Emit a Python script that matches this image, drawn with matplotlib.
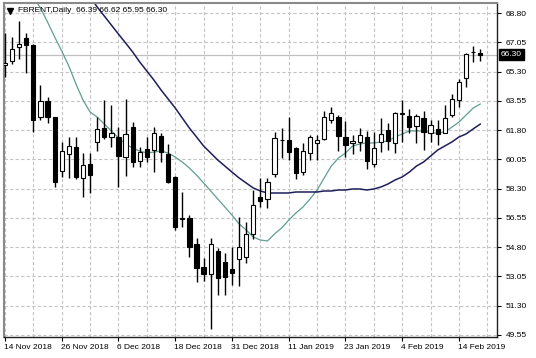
import matplotlib
matplotlib.use("Agg")
import matplotlib.pyplot as plt
from matplotlib.lines import Line2D
import matplotlib.transforms as mtransforms

plt.rcParams['font.family'] = ['Liberation Sans', 'DejaVu Sans']

# ---------------- data ----------------
opens = [65.69, 65.95, 66.75, 67.29, 66.89, 62.60, 63.56, 62.56, 59.37, 60.37,
         60.81, 58.92, 59.77, 61.11, 61.94, 61.37, 61.40, 60.17, 61.97, 59.97,
         60.65, 60.61, 61.46, 60.35, 59.01, 56.50, 56.52, 54.97, 53.59, 53.19,
         54.59, 53.93, 53.47, 54.09, 54.23, 55.59, 57.82, 57.66, 59.17, 61.18,
         61.21, 60.71, 59.31, 60.41, 61.01, 61.27, 62.40, 62.60, 61.37, 61.01,
         61.11, 61.41, 59.77, 61.11, 61.81, 61.01, 62.78, 62.64, 62.04, 62.50,
         61.65, 61.85, 61.65, 62.70, 63.60, 64.89, 66.45, 66.39]
highs = [67.59, 67.38, 68.34, 67.62, 66.95, 64.50, 63.80, 62.60, 61.11, 61.40,
         61.40, 60.41, 60.45, 62.56, 63.60, 63.30, 61.97, 63.66, 62.27, 60.81,
         61.40, 62.00, 61.61, 60.97, 59.05, 58.12, 56.72, 55.33, 54.13, 55.33,
         54.73, 54.43, 54.79, 56.58, 56.28, 58.22, 58.95, 58.91, 61.70, 61.90,
         62.56, 60.77, 61.01, 61.51, 61.51, 62.96, 63.16, 62.70, 62.36, 61.51,
         61.90, 61.75, 61.71, 62.54, 62.20, 62.90, 63.60, 63.04, 62.76, 62.96,
         62.40, 62.40, 63.30, 63.96, 64.85, 66.39, 66.83, 66.62]
lows = [64.99, 65.75, 66.03, 65.23, 61.70, 62.40, 62.24, 58.42, 59.01, 58.92,
        58.86, 57.78, 58.06, 60.57, 61.25, 60.81, 58.42, 59.07, 59.61, 59.61,
        59.91, 59.31, 59.91, 58.65, 55.83, 56.02, 54.23, 52.74, 52.80, 49.89,
        51.94, 51.94, 52.54, 52.48, 53.87, 55.27, 57.22, 57.12, 59.01, 60.11,
        60.01, 58.85, 59.11, 60.01, 60.01, 61.21, 62.24, 60.57, 60.21, 60.37,
        60.57, 59.45, 59.61, 60.51, 60.61, 60.45, 61.11, 61.61, 61.05, 60.61,
        61.11, 60.91, 61.61, 62.60, 63.16, 64.40, 65.89, 65.95]
closes = [65.83, 66.63, 66.95, 66.89, 62.40, 63.54, 62.60, 58.71, 60.55, 60.85,
          59.01, 59.71, 59.13, 61.85, 61.37, 61.61, 60.27, 61.55, 59.91, 60.47,
          60.21, 61.64, 60.47, 58.71, 56.02, 56.55, 54.79, 53.53, 53.19, 54.97,
          52.94, 53.03, 53.27, 54.83, 55.59, 57.32, 57.58, 58.72, 61.31, 61.22,
          60.51, 59.21, 60.57, 61.37, 61.21, 62.60, 62.80, 61.47, 60.91, 61.15,
          61.51, 59.97, 60.71, 61.55, 61.17, 62.80, 62.84, 61.96, 62.64, 61.67,
          62.10, 61.55, 62.54, 63.66, 64.65, 66.33, 66.50, 66.30]

ma_fast = [71.50, 71.10, 70.70, 70.30, 69.76, 69.10, 68.26, 67.37, 66.53, 65.63,
           64.56, 63.60, 62.88, 62.58, 62.16, 61.75, 61.33, 60.97, 60.73, 60.55,
           60.43, 60.49, 60.55, 60.43, 60.19, 59.89, 59.53, 59.11, 58.64, 58.16,
           57.68, 57.20, 56.72, 56.19, 55.83, 55.41, 55.23, 55.17, 55.59, 55.95,
           56.42, 56.84, 57.20, 57.68, 58.22, 58.94, 59.65, 60.13, 60.43, 60.85,
           60.97, 61.03, 61.03, 61.09, 61.15, 61.39, 61.57, 61.75, 61.75, 61.75,
           61.63, 61.63, 61.69, 61.98, 62.28, 62.70, 63.12, 63.36]
ma_slow = [None] * 11 + [
           70.29, 69.76, 69.16, 68.62, 68.08, 67.54, 67.01, 66.47, 65.87, 65.33,
           64.79, 64.20, 63.66, 63.12, 62.52, 61.92, 61.39, 60.85, 60.43, 60.01,
           59.65, 59.29, 58.94, 58.64, 58.34, 58.16, 58.04, 58.04, 58.04, 58.04,
           58.10, 58.10, 58.10, 58.10, 58.16, 58.16, 58.22, 58.22, 58.28, 58.28,
           58.22, 58.28, 58.40, 58.58, 58.82, 59.00, 59.29, 59.65, 59.89, 60.25,
           60.61, 60.85, 61.09, 61.39, 61.57, 61.87, 62.16]

xtick_labels = ["14 Nov 2018", "26 Nov 2018", "6 Dec 2018", "18 Dec 2018",
                "31 Dec 2018", "11 Jan 2019", "23 Jan 2019", "4 Feb 2019",
                "14 Feb 2019"]
ytick_values = [49.55, 51.30, 53.05, 54.80, 56.55, 58.30, 60.05, 61.80,
                63.55, 65.30, 67.05, 68.80]
symbol = "FBRENT,Daily"
last_bar = "66.39 66.62 65.95 66.30"
bid = 66.30

# ---------------- figure ----------------
W, H = 536, 358
fig = plt.figure(figsize=(W / 100, H / 100), dpi=100)
fig.patch.set_facecolor('white')
ax = fig.add_axes([4 / W, 1 - 337 / H, 493 / W, 334 / H])
ax.set_facecolor('white')

n = len(opens)
xs = list(range(n))

ax.set_xlim(-0.14, 69.36)
ax.set_ylim(49.43, 69.40)

grid_kw = dict(color='#c4c4c4', lw=0.8, linestyle=(0, (3, 2)), zorder=0)
for gx in range(0, 69, 4):
    ax.axvline(gx, **grid_kw)
for gy in ytick_values:
    ax.axhline(gy, **grid_kw)

ax.axhline(bid, color='#c0c0c0', lw=0.9, zorder=1)

# moving averages
ax.plot(xs, ma_fast, color='#5f9e92', lw=0.9, zorder=2)
sx = [x for x, v in zip(xs, ma_slow) if v is not None]
sv = [v for v in ma_slow if v is not None]
ax.plot(sx, sv, color='#1e1e5a', lw=1.1, zorder=2)

# candles
ax.vlines(xs, lows, highs, color='black', lw=1.0, zorder=3)
for x, o, c in zip(xs, opens, closes):
    bottom = min(o, c)
    height = max(abs(c - o), 0.02)
    face = 'white' if c >= o else 'black'
    ax.bar(x, height, bottom=bottom, width=0.6, color=face,
           edgecolor='black', linewidth=0.8, zorder=4)

# spines
for s in ['left', 'top']:
    ax.spines[s].set_color('#8a8a8a')
    ax.spines[s].set_linewidth(1.5)
for s in ['right', 'bottom']:
    ax.spines[s].set_color('#202020')
    ax.spines[s].set_linewidth(1.0)

# ticks
ax.yaxis.tick_right()
ax.set_yticks(ytick_values)
ax.set_yticklabels([f"{v:.2f}" for v in ytick_values])
ax.tick_params(axis='y', which='both', length=3, width=0.8, pad=3,
               labelsize=6, colors='black', direction='out')
ax.set_xticks(list(range(0, n, 8))[:len(xtick_labels)])
ax.set_xticklabels(xtick_labels)
ax.tick_params(axis='x', which='both', length=3, width=0.8, pad=2,
               labelsize=6, colors='black', direction='out')
for lbl in ax.get_xticklabels():
    lbl.set_horizontalalignment('left')
    lbl.set_x(0)
offset = mtransforms.ScaledTranslation(-1 / 100, 0, fig.dpi_scale_trans)
for lbl in ax.get_xticklabels():
    lbl.set_transform(lbl.get_transform() + offset)

# current price label
trans = mtransforms.blended_transform_factory(ax.transAxes, ax.transData)
ax.text(1.0 + 4 / 493, bid, f"{bid:.2f}", transform=trans, color='white',
        fontsize=6, va='center', ha='left', zorder=10, clip_on=False,
        bbox=dict(boxstyle='square,pad=0.25', facecolor='black',
                  edgecolor='black'))

# header
fig.add_artist(Line2D([9.5 / W], [1 - 11 / H], marker='v', markersize=4,
                      color='black', transform=fig.transFigure, linestyle='none'))
fig.text(18 / W, 1 - 11 / H, f"{symbol}  {last_bar}", fontsize=6,
         va='center', ha='left', color='black', zorder=10)

fig.savefig('out.png', dpi=100, facecolor='white')
